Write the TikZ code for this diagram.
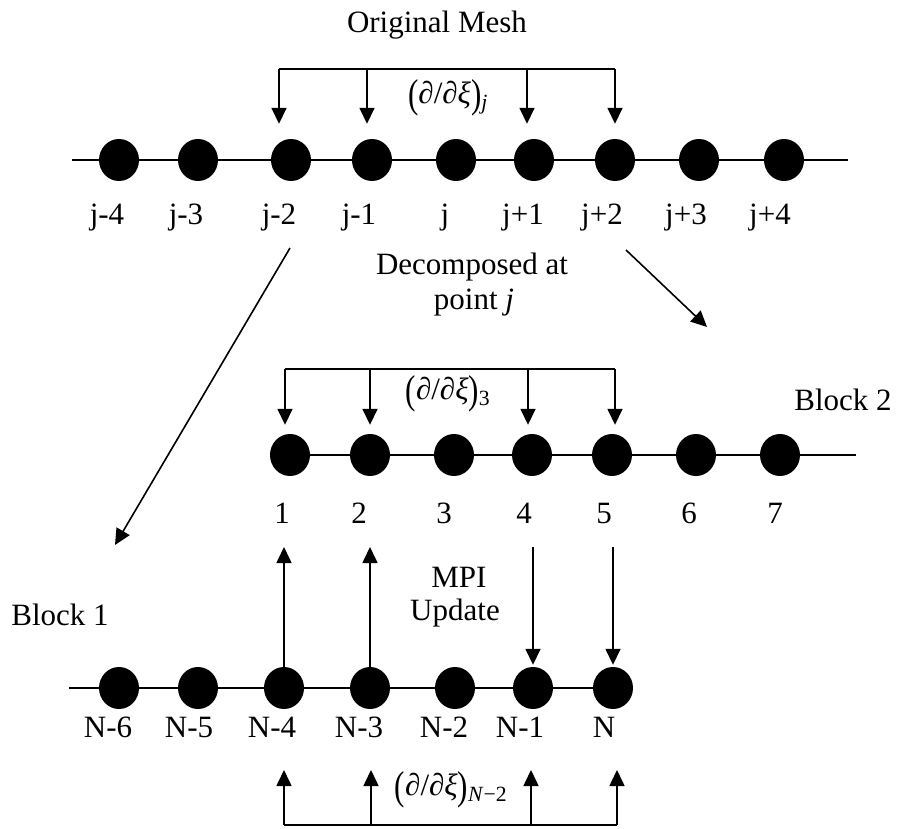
\documentclass[tikz,border=0pt]{standalone}
\usepackage{graphicx}
\usepackage{fontspec}
\setmainfont{Liberation Serif}
\usetikzlibrary{arrows.meta,shapes.geometric,calc}
\newcommand{\tallp}[1]{\raisebox{-0.12em}{\scalebox{1}[1.3]{#1}}}
\newcommand{\ddxi}[1]{\tallp{(}∂/∂\textit{ξ}\tallp{)}\textsubscript{#1}}
\begin{document}
\begin{tikzpicture}[x=1pt,y=-1pt,
  dot/.style={ellipse, fill=black, minimum width=40pt, minimum height=42pt, inner sep=0pt},
  rowline/.style={line width=2pt},
  brk/.style={line width=1.8pt},
  arr/.style={line width=1.6pt, -{Triangle[length=16pt,width=15pt]}},
  lbl/.style={anchor=base, inner sep=0pt, font=\fontsize{31}{36}\selectfont},
  mth/.style={anchor=center, inner sep=0pt, font=\fontsize{31}{36}\selectfont}]
\useasboundingbox (0,0) rectangle (903,829);

% ---------- top row ----------
\coordinate (tL) at (72,160);
\coordinate (tR) at (848,160);
\draw[rowline] (tL) -- (tR);
\foreach \i/\x in {1/119,2/198,3/291,4/372,5/456,6/534,7/615,8/699,9/784}
  \node[dot] (t\i) at (\x,160) {};
\foreach \i/\x/\t in {1/107/j-4,2/186/j-3,3/279/j-2,4/359/j-1,5/445/j,6/523/j+1,7/602/j+2,8/686/j+3,9/770/j+4}
  \node[lbl] (tl\i) at (\x,225) {\t};

\node[lbl] (om) at (437,33) {Original Mesh};

\coordinate (tA) at (279,69);
\coordinate (tB) at (367,69);
\coordinate (tC) at (527,69);
\coordinate (tD) at (615,69);
\draw[brk] (tA) -- (tD);
\draw[arr, shorten >=15pt] (tA) -- (tA |- t3.north);
\draw[arr, shorten >=15pt] (tB) -- (tB |- t4.north);
\draw[arr, shorten >=15pt] (tC) -- (tC |- t6.north);
\draw[arr, shorten >=15pt] (tD) -- (tD |- t7.north);
\node[mth] (dj) at (448,98) {\ddxi{\textit{j}}};

% ---------- decomposition ----------
\node[lbl] (dec1) at (472,275) {Decomposed at};
\node[lbl] (dec2) at (474,310) {point \textit{j}};
\coordinate (dl1) at (290,248);
\coordinate (dl2) at (115,545);
\coordinate (dr1) at (626,250);
\coordinate (dr2) at (707,327);
\draw[arr] (dl1) -- (dl2);
\draw[arr] (dr1) -- (dr2);

% ---------- middle row (block 2) ----------
\coordinate (mL) at (290,455);
\coordinate (mR) at (856,455);
\draw[rowline] (mL) -- (mR);
\foreach \i/\x in {1/290,2/370,3/454,4/532,5/612,6/696,7/780}
  \node[dot] (m\i) at (\x,455) {};
\foreach \i/\x in {1/282,2/359,3/444,4/524,5/604,6/689,7/775}
  \node[lbl] (ml\i) at (\x,523) {\i};
\node[lbl] (blk2) at (843,410) {Block 2};

\coordinate (mA) at (285,369);
\coordinate (mB) at (370,369);
\coordinate (mC) at (528,369);
\coordinate (mD) at (615,369);
\draw[brk] (mA) -- (mD);
\draw[arr, shorten >=9pt] (mA) -- (mA |- m1.north);
\draw[arr, shorten >=9pt] (mB) -- (mB |- m2.north);
\draw[arr, shorten >=9pt] (mC) -- (mC |- m4.north);
\draw[arr, shorten >=9pt] (mD) -- (mD |- m5.north);
\node[mth] (d3) at (448,394) {\ddxi{3}};

% ---------- bottom row (block 1) ----------
\coordinate (bL) at (69,688);
\foreach \i/\x in {1/119,2/198,3/284,4/370,5/455,6/533,7/613}
  \node[dot] (b\i) at (\x,688) {};
\draw[rowline] (bL) -- (b1) -- (b2) -- (b3) -- (b4) -- (b5) -- (b6) -- (b7);
\foreach \i/\x/\t in {1/108/N-6,2/189/N-5,3/272/N-4,4/359/N-3,5/444/N-2,6/520/N-1,7/604/N}
  \node[lbl] (bl\i) at (\x,737) {\t};
\node[lbl] (blk1) at (60,625) {Block 1};

% MPI update arrows
\coordinate (upT) at (0,547);
\coordinate (dnT) at (0,547);
\draw[arr] (b3.north) -- (b3.north |- upT);
\draw[arr] (b4.north) -- (b4.north |- upT);
\draw[arr, shorten >=2pt] (b6.north |- dnT) -- (b6.north);
\draw[arr, shorten >=2pt] (b7.north |- dnT) -- (b7.north);
\node[lbl] (mpi1) at (459,587) {MPI};
\node[lbl] (mpi2) at (455,620) {Update};

% bottom bracket
\coordinate (bA) at (284,825);
\coordinate (bB) at (371,825);
\coordinate (bC) at (531,825);
\coordinate (bD) at (617,825);
\coordinate (bT) at (0,770);
\draw[brk] (bA) -- (bD);
\draw[arr] (bA) -- (bA |- bT);
\draw[arr] (bB) -- (bB |- bT);
\draw[arr] (bC) -- (bC |- bT);
\draw[arr] (bD) -- (bD |- bT);
\node[mth] (dn) at (451,790) {\ddxi{\textit{N}−2}};
\end{tikzpicture}
\end{document}
